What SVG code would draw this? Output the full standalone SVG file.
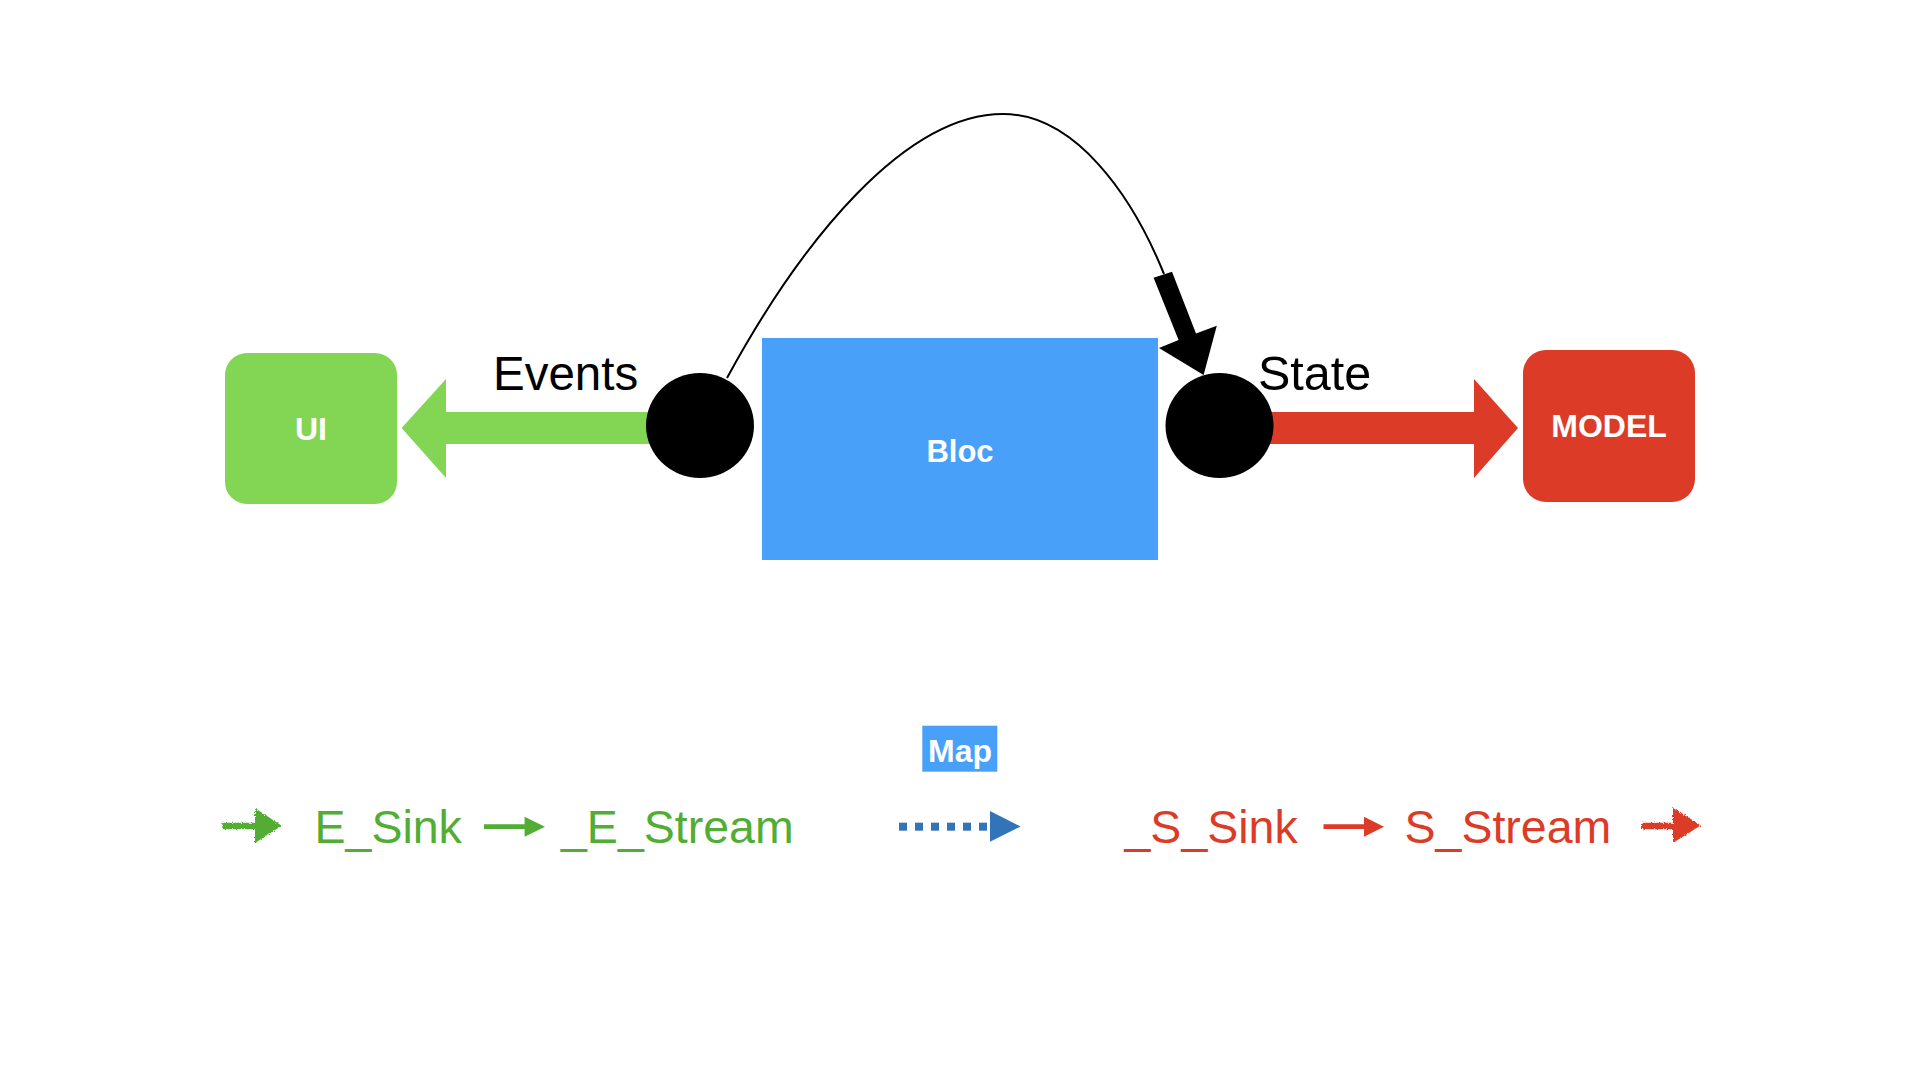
<svg xmlns="http://www.w3.org/2000/svg" width="1920" height="1080" viewBox="0 0 1920 1080">
  <defs>
    <style>
      .lbl { font-family: "Liberation Sans", Arial, Helvetica, sans-serif; }
      .node-text { font-family: "Liberation Sans", Arial, Helvetica, sans-serif; font-weight: bold; fill: #ffffff; text-anchor: middle; }
      .port { fill: #000000; }
      .green { fill: #52ad34; }
      .red { fill: #dc3b27; }
      .legend { font-family: "Liberation Sans", Arial, Helvetica, sans-serif; font-size: 46.5px; }
    </style>
    <filter id="rough" x="-20%" y="-40%" width="140%" height="180%">
      <feTurbulence type="fractalNoise" baseFrequency="0.9" numOctaves="2" seed="3" result="n"/>
      <feDisplacementMap in="SourceGraphic" in2="n" scale="3.5" xChannelSelector="R" yChannelSelector="G"/>
    </filter>
  </defs>
  <rect x="0" y="0" width="1920" height="1080" fill="#ffffff"/>

  <g id="connectors">
    <polygon id="events-arrow" fill="#82d654" points="401.6,428 446,379 446,412 700,412 700,444 446,444 446,478"/>
    <polygon id="state-arrow" fill="#dc3b27" points="1219,412 1474,412 1474,379 1518,428 1474,478 1474,444 1219,444"/>
    <path id="map-curve" d="M727,378 C802,240 905,114 1003,114 C1075,114 1132,195 1164,274" fill="none" stroke="#000000" stroke-width="2"/>
    <polygon id="map-curve-head" fill="#000000" points="1153.6,277.7 1172,271.7 1196,333.5 1216.8,325.7 1203.6,375 1159,348 1178.6,340"/>
  </g>

  <g id="ui">
    <rect x="225" y="353" width="172" height="151" rx="22" ry="22" fill="#82d654"/>
    <text class="node-text" x="311" y="440" font-size="32">UI</text>
  </g>

  <g id="events-port">
    <ellipse class="port" cx="700" cy="425.5" rx="54" ry="52.5"/>
  </g>

  <g id="events-label">
    <text class="lbl" x="493" y="390" font-size="47.5" fill="#000000">Events</text>
  </g>

  <g id="bloc">
    <rect x="762" y="338" width="396" height="222" fill="#49a0f8"/>
    <text class="node-text" x="960" y="462" font-size="31">Bloc</text>
  </g>

  <g id="state-port">
    <ellipse class="port" cx="1219.5" cy="425.5" rx="54" ry="52.5"/>
  </g>

  <g id="state-label">
    <text class="lbl" x="1258" y="390" font-size="48.5" fill="#000000">State</text>
  </g>

  <g id="model">
    <rect x="1523" y="350" width="172" height="152" rx="23" ry="23" fill="#dc3b27"/>
    <text class="node-text" x="1609" y="437" font-size="32">MODEL</text>
  </g>

  <g id="map">
    <rect x="922.3" y="725.7" width="75" height="46" fill="#49a0f8"/>
    <text class="node-text" x="960" y="762" font-size="32">Map</text>
  </g>

  <g id="legend">
    <polygon class="green" filter="url(#rough)" points="222.3,822.7 255,822.7 255,808 281.7,825.7 255,843 255,829.3 222.3,829.3"/>
    <text class="legend green" x="314.5" y="843.3">E_Sink</text>
    <polygon class="green" points="484,824.3 524.6,824.3 524.6,816.7 545,826.7 524.6,836.7 524.6,829.1 484,829.1"/>
    <text class="legend green" x="561" y="843.3">_E_Stream</text>

    <g id="map-arrow" fill="#3274b8">
      <rect x="899" y="822.7" width="8" height="8"/>
      <rect x="915" y="822.7" width="8" height="8"/>
      <rect x="931" y="822.7" width="8" height="8"/>
      <rect x="947" y="822.7" width="8" height="8"/>
      <rect x="963" y="822.7" width="8" height="8"/>
      <rect x="979" y="822.7" width="8" height="8"/>
      <polygon points="990,811 1020.7,826.5 990,841.7"/>
    </g>

    <text class="legend red" x="1124.5" y="843.3">_S_Sink</text>
    <polygon class="red" points="1323.5,824.3 1364,824.3 1364,816.7 1384,826.7 1364,836.7 1364,829.1 1323.5,829.1"/>
    <text class="legend red" x="1404.5" y="843.3">S_Stream</text>
    <polygon class="red" filter="url(#rough)" points="1642,822.7 1673,822.7 1673,808 1701,825.3 1673,843 1673,829.3 1642,829.3"/>
  </g>
</svg>
